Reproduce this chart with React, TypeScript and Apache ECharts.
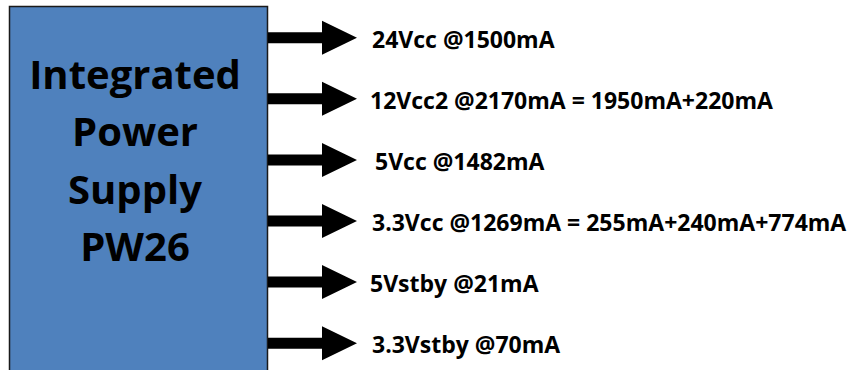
import React, { useEffect, useRef } from "react";
import * as echarts from "echarts";

const titleLines = ["Integrated", "Power", "Supply", "PW26"];
const railLabels = [
  "24Vcc @1500mA",
  "12Vcc2 @2170mA = 1950mA+220mA",
  "5Vcc @1482mA",
  "3.3Vcc @1269mA = 255mA+240mA+774mA",
  "5Vstby @21mA",
  "3.3Vstby @70mA",
];
const railIndex = [0, 1, 2, 3, 4, 5];

const ARROW_TIP = 89;
const HEAD_START = 54;
const LABEL_DX = [15, 13, 18, 15, 13, 15];

export default function App() {
  const ref = useRef<HTMLDivElement>(null);
  useEffect(() => {
    document.body.style.margin = "0";
    const chart = echarts.init(ref.current!, null, { renderer: "svg" });
    const font = "'Open Sans'";
    chart.setOption({
      animation: false,
      backgroundColor: "#ffffff",
      grid: { left: 268, width: 100, top: 37.7, bottom: 370 - 343.2 },
      xAxis: { type: "value", min: 0, max: 100, show: false },
      yAxis: { type: "value", min: 0, max: 5, inverse: true, show: false },
      graphic: [
        {
          type: "rect",
          shape: { x: 9.5, y: 6.5, width: 258, height: 380 },
          style: { fill: "#4f81bd", stroke: "#1a1a1a", lineWidth: 1.5 },
          z: 1,
        },
        {
          type: "text",
          x: 135,
          y: 45,
          style: {
            text: titleLines.join("\n"),
            font: `bold 40px ${font}`,
            fill: "#000",
            align: "center",
            verticalAlign: "top",
            lineHeight: 57.3,
          },
          z: 2,
        },
      ],
      series: [
        {
          type: "custom",
          data: railIndex.map((i) => [0, i]),
          renderItem: (params: any, api: any) => {
            const i = params.dataIndex;
            const base = api.coord([0, api.value(1)]);
            const head = api.coord([HEAD_START, api.value(1)]);
            const tip = api.coord([ARROW_TIP, api.value(1)]);
            const y = base[1];
            const sh = 5.5;
            const hh = 17;
            return {
              type: "group",
              children: [
                {
                  type: "polygon",
                  shape: {
                    points: [
                      [base[0], y - sh],
                      [head[0], y - sh],
                      [head[0], y - hh],
                      [tip[0], y],
                      [head[0], y + hh],
                      [head[0], y + sh],
                      [base[0], y + sh],
                    ],
                  },
                  style: { fill: "#000" },
                },
                {
                  type: "text",
                  x: tip[0] + LABEL_DX[i],
                  y: y + 1,
                  style: {
                    text: railLabels[i],
                    font: `bold 23px ${font}`,
                    fill: "#000",
                    align: "left",
                    verticalAlign: "middle",
                  },
                },
              ],
            };
          },
        },
      ],
    });
    return () => chart.dispose();
  }, []);
  return <div ref={ref} style={{ width: 856, height: 370 }} />;
}
